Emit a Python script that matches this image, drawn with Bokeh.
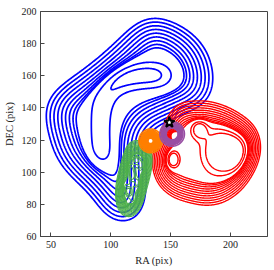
import numpy as np
from bokeh.plotting import figure
from bokeh.models import FixedTicker
from bokeh.embed import file_html
from bokeh.resources import INLINE

# ---------------- axes ----------------
X_RANGE = (41.3, 231.0)
Y_RANGE = (60.0, 200.0)
X_TICKS = [50, 100, 150, 200]
Y_TICKS = [60, 80, 100, 120, 140, 160, 180, 200]
X_LABEL = "RA (pix)"
Y_LABEL = "DEC (pix)"

# ---------------- blue (outer contour outline) ----------------
blue_outline_x = [134.5, 144.2, 158.2, 170.5, 178.5, 182.5, 181.0, 175.5, 164.5, 155.4, 148.4,
                  135.0, 127.5, 124.7, 125.0, 126.0, 125.5, 123.5, 119.5, 113.0, 107.0, 99.5,
                  93.5, 85.5, 77.3, 66.0, 58.0, 55.0, 51.5, 48.5, 51.0, 62.0, 76.0, 90.0,
                  104.0, 118.0, 126.5]
blue_outline_y = [195.5, 193.0, 188.5, 181.5, 172.5, 160.0, 148.5, 143.0, 140.5, 138.3, 134.2,
                  132.0, 128.0, 120.0, 110.0, 100.0, 88.0, 77.0, 71.5, 69.5, 70.0, 74.0,
                  80.0, 89.0, 94.0, 102.0, 110.0, 116.5, 125.9, 136.4, 145.5, 152.5, 159.5, 167.5,
                  176.5, 187.0, 192.5]
blue_blur = (10.5, 7.2)
blue_bump_x = [146, 138, 130, 122, 114, 106, 99, 94, 92, 91.5, 91.5, 92, 93]
blue_bump_y = [160, 160.5, 160.5, 160, 159, 157, 153, 147, 140, 132, 124, 116, 109]
blue_bump_w = [0.06, 0.08, 0.08, 0.08, 0.08, 0.08, 0.07, 0.065, 0.065, 0.065, 0.065, 0.065, 0.055]
blue_bump_s = (8.0, 6.0)
blue_levels = [0.345, 0.46, 0.579, 0.691, 0.788, 0.864, 0.919, 0.955, 0.977, 1.075, 1.15]

# ---------------- red ----------------
red_outline_x = [152.6, 161.0, 180.5, 197.3, 211.2, 221.0, 225.2, 223.7, 218.2, 208.4, 194.4,
                 180.5, 166.6, 152.6, 141.5, 135.9, 135.4, 137.3, 141.5, 144.2, 148.4]
red_outline_y = [139.4, 142.5, 143.1, 139.4, 133.2, 127.0, 118.6, 109.3, 100.0, 89.7, 82.4,
                 80.4, 82.4, 85.5, 91.7, 100.0, 110.4, 116.6, 118.6, 127.0, 133.2]
red_blur = (6.0, 6.5)
red_bump_x = [174.0, 189.0, 204.0, 152.0, 151.0]
red_bump_y = [127.0, 113.0, 112.0, 108.0, 123.5]
red_bump_sx = [4.8, 9.0, 9.0, 3.5, 3.0]
red_bump_sy = [4.2, 9.5, 9.5, 3.5, 2.5]
red_bump_w = [0.12, 0.12, 0.12, 0.15, 0.12]
red_levels = [0.401, 0.49, 0.579, 0.665, 0.742, 0.809, 0.864, 0.907, 0.939, 0.962, 0.977,
              1.035, 1.07]

# ---------------- green ----------------
green_outline_x = [115.0, 120.5, 129.5, 134.0, 133.2, 129.8, 126.0, 122.0, 115.0, 108.0,
                   105.0, 105.6, 109.0, 112.0]
green_outline_y = [117.0, 119.0, 117.0, 111.4, 103.1, 92.8, 82.4, 75.2, 73.0, 75.2,
                   82.4, 92.8, 103.1, 111.4]
green_blur = (3.5, 4.0)
green_bump_x = [121.0, 126.0, 118.0, 123.0, 115.0, 119.0, 113.0, 111.0, 124.0, 116.0]
green_bump_y = [108.0, 104.0, 98.0, 93.0, 88.0, 82.0, 79.0, 92.0, 84.0, 103.0]
green_bump_sx = [2.5, 2.0, 2.0, 2.0, 2.5, 2.0, 2.0, 1.8, 1.8, 2.0]
green_bump_sy = [2.5, 3.0, 3.0, 2.5, 2.5, 2.0, 2.0, 3.0, 2.5, 2.5]
green_bump_w = [0.08, 0.07, 0.08, 0.08, 0.08, 0.08, 0.06, 0.06, 0.07, 0.07]
green_levels = [0.35, 0.42, 0.49, 0.56, 0.63, 0.69, 0.75, 0.8, 0.845, 0.885, 0.918, 0.945,
                0.965, 0.98, 1.02, 1.04, 1.06]

# ---------------- orange / purple (compact blobs) ----------------
orange_cx, orange_cy, orange_sx, orange_sy = 133.3, 119.5, 4.0, 3.0
orange_levels = [0.05, 0.1, 0.15, 0.2, 0.25, 0.3, 0.35, 0.4, 0.45, 0.5, 0.55, 0.6, 0.65, 0.7,
                 0.75, 0.8, 0.85]
purple_cx, purple_cy, purple_sx, purple_sy = 151.3, 123.8, 4.2, 3.1
purple_levels = [0.05, 0.1, 0.15, 0.2, 0.25, 0.3, 0.35, 0.4, 0.45, 0.5]

# ---------------- star ----------------
star_x = [149.0]
star_y = [131.0]

# ---------------- density grid ----------------
STEP = 0.5
gx = np.arange(30.0, 240.0 + STEP, STEP)
gy = np.arange(50.0, 210.0 + STEP, STEP)
GX, GY = np.meshgrid(gx, gy)


def polygon_mask(vx, vy):
    vx = np.asarray(vx, float)
    vy = np.asarray(vy, float)
    m = np.zeros(GX.shape, bool)
    n = len(vx)
    j = n - 1
    for i in range(n):
        xi, yi, xj, yj = vx[i], vy[i], vx[j], vy[j]
        cond = (yi > GY) != (yj > GY)
        xint = (xj - xi) * (GY - yi) / ((yj - yi) if yj != yi else 1e-9) + xi
        m ^= cond & (GX < xint)
        j = i
    return m.astype(float)


def blur_mat(c, s):
    d = c[:, None] - c[None, :]
    return np.exp(-0.5 * (d / s) ** 2) * STEP / (np.sqrt(2 * np.pi) * s)


def plateau(vx, vy, blur):
    m = polygon_mask(vx, vy)
    kx = blur_mat(gx, blur[0])
    ky = blur_mat(gy, blur[1])
    return ky @ m @ kx.T


def bumps(cx, cy, sx, sy, w):
    z = np.zeros(GX.shape)
    for a, b, c, d, e in zip(cx, cy, sx, sy, w):
        z += e * np.exp(-0.5 * ((GX - a) / c) ** 2 - 0.5 * ((GY - b) / d) ** 2)
    return z


n_b = len(blue_bump_x)
Z_blue = plateau(blue_outline_x, blue_outline_y, blue_blur) + bumps(
    blue_bump_x, blue_bump_y, [blue_bump_s[0]] * n_b, [blue_bump_s[1]] * n_b, blue_bump_w)
Z_red = plateau(red_outline_x, red_outline_y, red_blur) + bumps(
    red_bump_x, red_bump_y, red_bump_sx, red_bump_sy, red_bump_w)
Z_green = plateau(green_outline_x, green_outline_y, green_blur) + bumps(
    green_bump_x, green_bump_y, green_bump_sx, green_bump_sy, green_bump_w)
Z_orange = bumps([orange_cx], [orange_cy], [orange_sx], [orange_sy], [1.0])
Z_purple = bumps([purple_cx], [purple_cy], [purple_sx], [purple_sy], [1.0])

# ---------------- figure ----------------
p = figure(width=274, height=270, x_range=X_RANGE, y_range=Y_RANGE,
           output_backend="svg", toolbar_location=None,
           min_border_left=40, min_border_right=7, min_border_top=11, min_border_bottom=34)
p.background_fill_color = "white"
p.border_fill_color = "white"
p.outline_line_color = "#444444"
p.outline_line_width = 1
p.xgrid.visible = False
p.ygrid.visible = False

p.contour(gx, gy, Z_blue, blue_levels, line_color="blue", line_width=1.7)
p.contour(gx, gy, Z_red, red_levels, line_color="red", line_width=1.4)
p.contour(gx, gy, Z_green, green_levels, line_color="#4daf4a", line_width=1.1)
p.contour(gx, gy, Z_orange, orange_levels, line_color="#ff7f00", line_width=1.6)
p.contour(gx, gy, Z_purple, purple_levels, line_color="#984ea3", line_width=1.6)
p.scatter(star_x, star_y, marker="star", size=11, fill_color="white",
          line_color="black", line_width=2)

FONT = "Liberation Serif"
for ax, ticks, lab in ((p.xaxis, X_TICKS, X_LABEL), (p.yaxis, Y_TICKS, Y_LABEL)):
    ax.ticker = FixedTicker(ticks=ticks)
    ax.axis_label = lab
    ax.axis_label_text_font = FONT
    ax.axis_label_text_font_size = "10.5px"
    ax.axis_label_text_font_style = "normal"
    ax.axis_label_text_color = "#222222"
    ax.major_label_text_font = FONT
    ax.major_label_text_font_size = "10px"
    ax.major_label_text_color = "#222222"
    ax.major_tick_in = 4
    ax.major_tick_out = 0
    ax.minor_tick_line_color = None
    ax.major_tick_line_color = "#444444"
    ax.axis_line_color = "#444444"
    ax.major_label_standoff = 4
    ax.axis_label_standoff = 4

open("out.html", "w").write(file_html(p, INLINE))
